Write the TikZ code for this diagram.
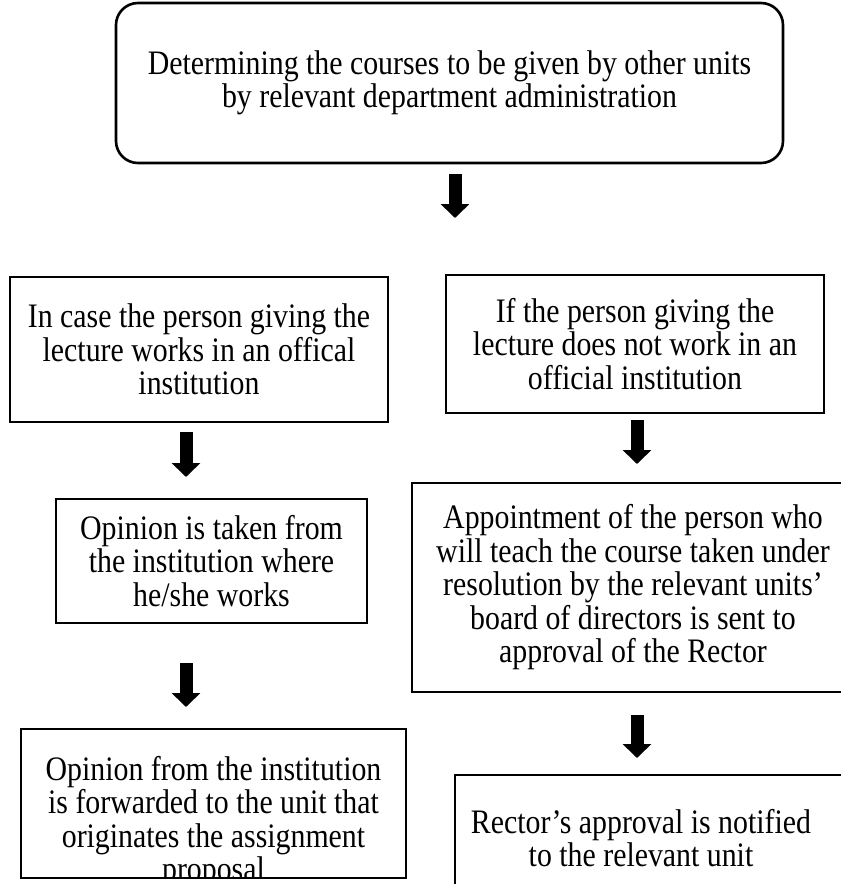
\documentclass[tikz,border=0pt]{standalone}
\usepackage{fontspec}
\setmainfont{Liberation Serif}
\newfontfamily\boxfont[FakeStretch=0.87]{Liberation Serif}
\usetikzlibrary{arrows.meta}
\begin{document}
\begin{tikzpicture}[x=1pt,y=-1pt,
  boxtext/.style={align=center, inner sep=0pt, font=\boxfont\fontsize{34.3}{33.5}\selectfont},
  box/.style={boxtext, draw, line width=2.6pt, rectangle},
  frame/.style={draw, line width=2.6pt, rectangle, inner sep=0pt},
  blockarrow/.style={line width=13pt, -{Triangle[width=28pt,length=14pt]}}
]
\useasboundingbox (0,0) rectangle (841,884);
\fill[white] (0,0) rectangle (841,884);
\clip (0,0) rectangle (841,884);

% boxes
\node[box, rounded corners=22pt, minimum width=667pt, minimum height=160pt] (top) at (449.5,83)
  {Determining the courses to be given by other units\\by relevant department administration};
\node[box, minimum width=378pt, minimum height=145pt] (L1) at (199,349.5)
  {In case the person giving the\\lecture works in an offical\\institution};
\node[box, minimum width=378pt, minimum height=138pt] (R1) at (635,344)
  {If the person giving the\\lecture does not work in an\\official institution};
\node[box, minimum width=311pt, minimum height=124pt] (L2) at (211.5,561)
  {Opinion is taken from\\the institution where\\he/she works};
\node[box, minimum width=442pt, minimum height=209pt] (R2) at (633,587.5)
  {Appointment of the person who\\will teach the course taken under\\resolution by the relevant units’\\board of directors is sent to\\approval of the Rector};

% bottom-left box: text overflows the frame
\node[boxtext] (L3) at (213.5,822)
  {Opinion from the institution\\is forwarded to the unit that\\originates the assignment\\proposal};
\fill[white] (0,878) rectangle (841,884);
\node[frame, minimum width=385pt, minimum height=149pt] (L3box) at (213.5,803.5) {};

% bottom-right box (cut by the page edge)
\node[frame, minimum width=415pt, minimum height=155pt] (R3box) at (662.5,852.5) {};
\node[boxtext] (R3) at (641,838)
  {Rector’s approval is notified\\to the relevant unit};

% arrows
\coordinate (a1s) at (455,174);  \coordinate (a1e) at (455,218);
\coordinate (aL1s) at (186,432); \coordinate (aL1e) at (186,477);
\coordinate (aR1s) at (637,420); \coordinate (aR1e) at (637,464);
\coordinate (aL2s) at (186,663); \coordinate (aL2e) at (186,707);
\coordinate (aR2s) at (637,715); \coordinate (aR2e) at (637,758);
\draw[blockarrow] (a1s) -- (a1e);
\draw[blockarrow] (aL1s) -- (aL1e);
\draw[blockarrow] (aR1s) -- (aR1e);
\draw[blockarrow] (aL2s) -- (aL2e);
\draw[blockarrow] (aR2s) -- (aR2e);
\end{tikzpicture}
\end{document}
